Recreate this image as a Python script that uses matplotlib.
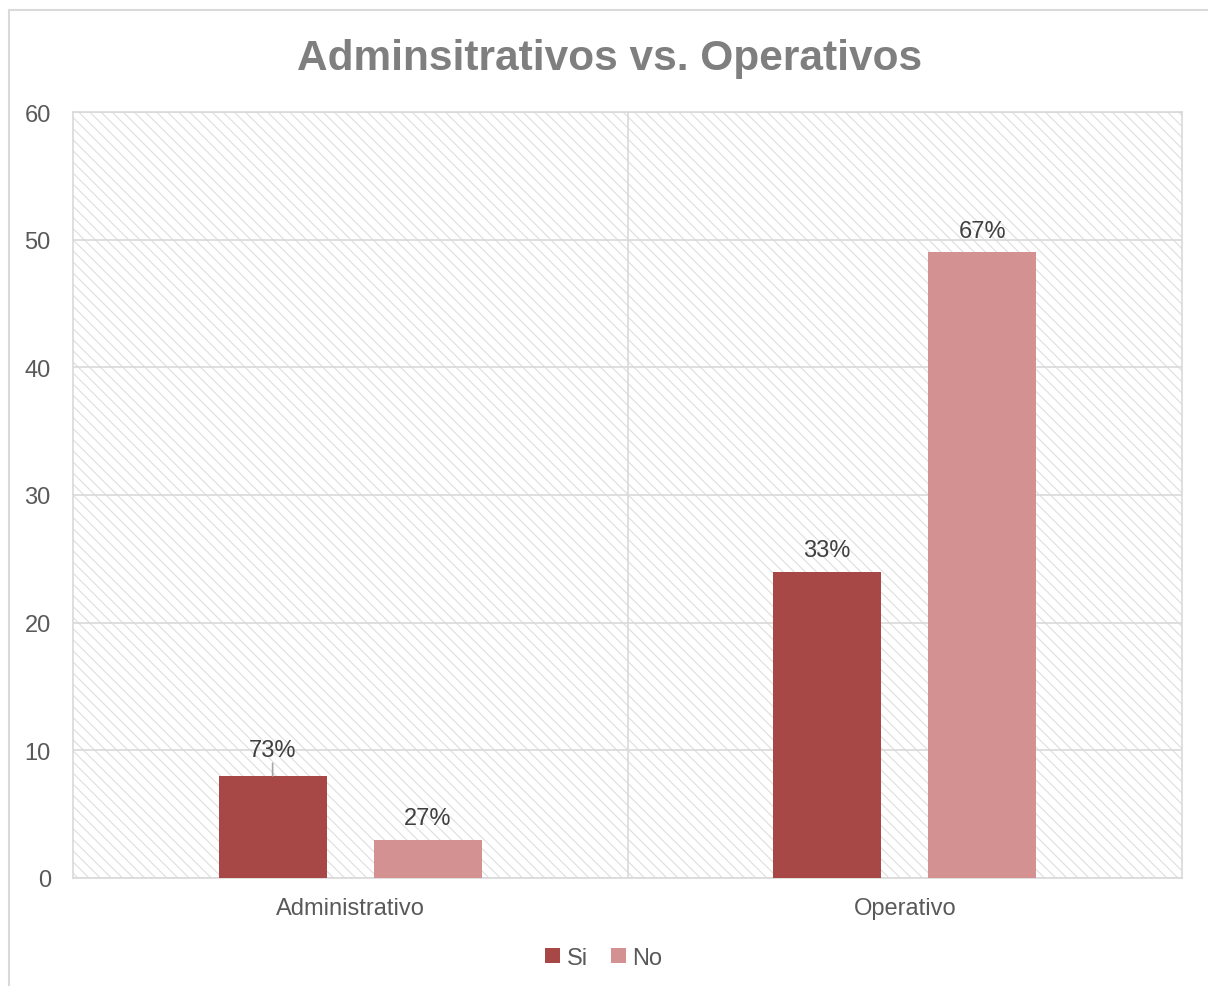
import numpy as np
import matplotlib.pyplot as plt
from matplotlib.patches import Rectangle

plt.rcParams['font.family'] = ['Liberation Sans', 'DejaVu Sans']
plt.rcParams['hatch.color'] = '#dedede'
plt.rcParams['hatch.linewidth'] = 0.8

# datos por tipo de personal
categorias = ['Administrativo', 'Operativo']
si = [8, 24]
no = [3, 49]
series = ['Si', 'No']
colores = ['#a84846', '#d39191']

totales = np.array(si) + np.array(no)
pct_si = np.array(si) / totales * 100
pct_no = np.array(no) / totales * 100

fig = plt.figure(figsize=(12.08, 9.87), dpi=100)
ax = fig.add_axes([73 / 1208, 1 - 879 / 987, 1109 / 1208, 766 / 987])

# marco del grafico
fig.patches.append(Rectangle((8.5 / 1208, -0.1), 1.2, 1.1 - 10.5 / 987,
                             transform=fig.transFigure, fill=False,
                             edgecolor='#d9d9d9', linewidth=1.5))

# fondo rayado
ax.add_patch(Rectangle((0, 0), 1, 1, transform=ax.transAxes, facecolor='white',
                       hatch='\\\\\\', edgecolor='#dedede', linewidth=0, zorder=0))

x = np.arange(len(categorias))
ancho = 0.195
desp = 0.14

b1 = ax.bar(x - desp, si, ancho, color=colores[0], label=series[0], zorder=3)
b2 = ax.bar(x + desp, no, ancho, color=colores[1], label=series[1], zorder=3)

ax.set_xlim(-0.5, 1.5)
ax.set_ylim(0, 60)
ax.set_yticks(range(0, 61, 10))
ax.set_xticks(x)
ax.set_xticklabels(categorias)
ax.yaxis.grid(True, color='#d9d9d9', linewidth=1.2, zorder=1)
ax.axvline(0.5, color='#d9d9d9', linewidth=1.2, zorder=1)
ax.set_axisbelow(True)
for s in ax.spines.values():
    s.set_color('#d9d9d9')
    s.set_linewidth(1.2)
ax.tick_params(length=0, labelsize=17, labelcolor='#595959')
ax.tick_params(axis='x', pad=14)
ax.tick_params(axis='y', pad=16)

# etiquetas de porcentaje
for i in range(len(categorias)):
    if i == 0:
        ax.annotate(f'{pct_si[i]:.0f}%', xy=(x[i] - desp, si[i]), xytext=(x[i] - desp, si[i] + 1.2),
                    ha='center', va='bottom', fontsize=17, color='#404040',
                    arrowprops=dict(arrowstyle='-', color='#a6a6a6', lw=1.2, shrinkA=0, shrinkB=0))
    else:
        ax.text(x[i] - desp, si[i] + 0.8, f'{pct_si[i]:.0f}%', ha='center', va='bottom',
                fontsize=17, color='#404040')
    ax.text(x[i] + desp, no[i] + 0.8, f'{pct_no[i]:.0f}%', ha='center', va='bottom',
            fontsize=17, color='#404040')

fig.suptitle('Adminsitrativos vs. Operativos', x=0.505, y=1 - 59 / 987, va='center',
             fontsize=30.5, fontweight='bold', color='#7f7f7f')

fig.legend(loc='center', bbox_to_anchor=(0.5, 1 - 959 / 987), ncol=2, frameon=False,
           fontsize=17, labelcolor='#595959', handlelength=0.6, handleheight=0.6,
           handletextpad=0.3, columnspacing=1.0)

fig.savefig('out.png', dpi=100, facecolor='white')
